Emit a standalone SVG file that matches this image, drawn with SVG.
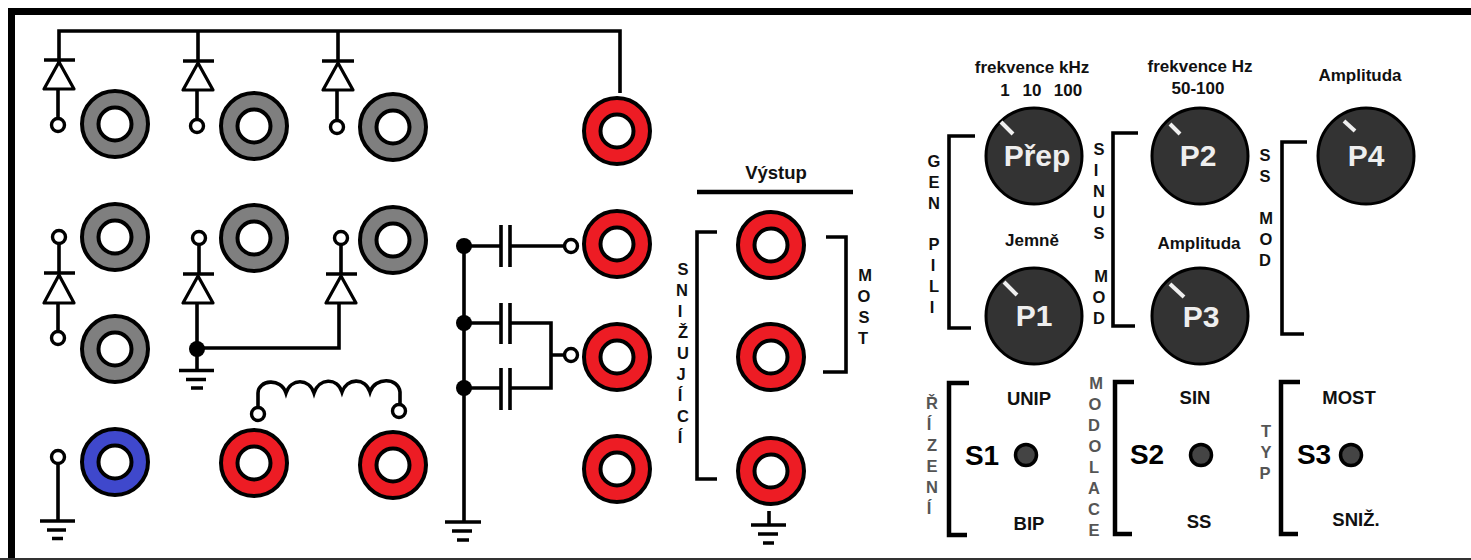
<svg xmlns="http://www.w3.org/2000/svg" width="1471" height="560" viewBox="0 0 1471 560">
<style>
.w{fill:none;stroke:#000;stroke-width:3.6}
.t{fill:#fff;stroke:#000;stroke-width:3.2;stroke-linejoin:round}
.c{fill:#fff;stroke:#000;stroke-width:3.4}
.j{fill:#000}
.so{stroke:#000;stroke-width:4}
.g{fill:#7f7f7f}.r{fill:#ed1c24}.b{fill:#3f48cc}
.k{fill:#333;stroke:#000;stroke-width:3}
.p{stroke:#f0f0f0;stroke-width:4;fill:none}
.l{fill:#444;stroke:#000;stroke-width:3.5}
text{font-family:"Liberation Sans",Arial,sans-serif;font-weight:700;fill:#111;text-anchor:middle}
.v{font-size:16.500px}.vg{font-size:16.500px;fill:#555}
.m{font-size:17px}
.n{font-size:30px;fill:#eee}
.s{font-size:28px;fill:#000}
.o{font-size:18.500px}
</style>
<rect width="1471" height="560" fill="#fff"/>
<g id="frame"><path d="M1471 11.500H11.500V558" class="w" style="stroke-width:7"/><path d="M0 559H1471" stroke="#333" stroke-width="2"/></g>
<g id="connectors">
<path class="w" d="M59 89V31H620V93"/>
<path class="w" d="M198 31V61M338 31V61"/>
<path class="w" d="M44 60H75M183 61H214M322 61H354"/>
<path class="w" d="M58 89V118M197 90V120M337 90V121"/>
<path class="w" d="M59 243V273M199 244V274M341 244V274M44 273H75M183 274H214M326 274H357"/>
<path class="w" d="M58 303V331M197 303V370M339 303V348H197"/>
<path class="w" d="M58 463V521"/>
<path class="w" d="M258 407V393C258 380 281 377 286 393C291 378 309 378 314 393C319 378 337 377 342 392C347 378 365 377 370 392C375 377 398 377 400 392V404"/>
<path class="w" d="M464 246V522M464 246H501M510 246H565M464 323H501M510 323H551V388H510M501 388H464M551 355H565"/>
<path class="w" d="M501 225V267M510 225V267M501 303V344M510 303V344M501 368V410M510 368V410"/>
<path class="w" d="M769 511V525"/>
</g>
<g id="grounds">
<path class="w" d="M179 370.500H214M186 379.500H206M191 388H203"/>
<path class="w" d="M40 521H75M47 530H66M52 538.500H63"/>
<path class="w" d="M445 522H481M452 531H472M457 540H469"/>
<path class="w" d="M751 525H786M758 534H778M763 543H774"/>
</g>
<g id="diodes">
<path class="t" d="M59 62L44 89H74Z"/><path class="t" d="M198 63L183 90H213Z"/><path class="t" d="M338 63L323 90H353Z"/>
<path class="t" d="M59 275L44 303H74Z"/><path class="t" d="M198 276L183 303H213Z"/><path class="t" d="M341 276L326 303H356Z"/>
</g>
<g id="terminals">
<circle class="c" cx="58" cy="125" r="6.500"/><circle class="c" cx="197" cy="126" r="6.500"/><circle class="c" cx="337" cy="127" r="6.500"/>
<circle class="c" cx="59" cy="237" r="6.500"/><circle class="c" cx="199" cy="238" r="6.500"/><circle class="c" cx="341" cy="238" r="6.500"/>
<circle class="c" cx="58" cy="338" r="6.500"/><circle class="c" cx="58" cy="457" r="6.500"/>
<circle class="c" cx="258" cy="414" r="6.500"/><circle class="c" cx="399" cy="411" r="6.500"/>
<circle class="c" cx="571" cy="246" r="6.500"/><circle class="c" cx="571" cy="355" r="6.500"/>
<circle class="j" cx="197" cy="349" r="8"/><circle class="j" cx="464" cy="246" r="8"/><circle class="j" cx="464" cy="323" r="8"/><circle class="j" cx="464" cy="388" r="8"/>
</g>
<g id="socket-g1"><circle class="so g" cx="115" cy="124" r="33"/><circle class="c" style="stroke-width:4" cx="115" cy="124" r="16.500"/></g>
<g id="socket-g2"><circle class="so g" cx="254" cy="126" r="33"/><circle class="c" style="stroke-width:4" cx="254" cy="126" r="16.500"/></g>
<g id="socket-g3"><circle class="so g" cx="393" cy="127" r="33"/><circle class="c" style="stroke-width:4" cx="393" cy="127" r="16.500"/></g>
<g id="socket-g4"><circle class="so g" cx="115" cy="237" r="33"/><circle class="c" style="stroke-width:4" cx="115" cy="237" r="16.500"/></g>
<g id="socket-g5"><circle class="so g" cx="254" cy="238" r="33"/><circle class="c" style="stroke-width:4" cx="254" cy="238" r="16.500"/></g>
<g id="socket-g6"><circle class="so g" cx="393" cy="240" r="33"/><circle class="c" style="stroke-width:4" cx="393" cy="240" r="16.500"/></g>
<g id="socket-g7"><circle class="so g" cx="115" cy="349" r="33"/><circle class="c" style="stroke-width:4" cx="115" cy="349" r="16.500"/></g>
<g id="socket-b1"><circle class="so b" cx="115" cy="462" r="33"/><circle class="c" style="stroke-width:4" cx="115" cy="462" r="16.500"/></g>
<g id="socket-r1"><circle class="so r" cx="254" cy="463" r="33"/><circle class="c" style="stroke-width:4" cx="254" cy="463" r="16.500"/></g>
<g id="socket-r2"><circle class="so r" cx="393" cy="465" r="33"/><circle class="c" style="stroke-width:4" cx="393" cy="465" r="16.500"/></g>
<g id="socket-r3"><circle class="so r" cx="617" cy="131" r="33"/><circle class="c" style="stroke-width:4" cx="617" cy="131" r="16.500"/></g>
<g id="socket-r4"><circle class="so r" cx="617" cy="244" r="33"/><circle class="c" style="stroke-width:4" cx="617" cy="244" r="16.500"/></g>
<g id="socket-r5"><circle class="so r" cx="617" cy="357" r="33"/><circle class="c" style="stroke-width:4" cx="617" cy="357" r="16.500"/></g>
<g id="socket-r6"><circle class="so r" cx="617" cy="469" r="33"/><circle class="c" style="stroke-width:4" cx="617" cy="469" r="16.500"/></g>
<g id="socket-r7"><circle class="so r" cx="771" cy="245" r="33"/><circle class="c" style="stroke-width:4" cx="771" cy="245" r="16.500"/></g>
<g id="socket-r8"><circle class="so r" cx="771" cy="357" r="33"/><circle class="c" style="stroke-width:4" cx="771" cy="357" r="16.500"/></g>
<g id="socket-r9"><circle class="so r" cx="771" cy="471" r="33"/><circle class="c" style="stroke-width:4" cx="771" cy="471" r="16.500"/></g>
<g id="vystup">
<text x="776" y="179" style="font-size:18.500px">Výstup</text>
<path class="w" d="M697 192H853" style="stroke-width:4.500"/>
<path class="w" d="M717 232H697V479H717M826 237H846V372H823"/>
<text class="v" x="683" y="275">S</text><text class="v" x="682" y="296">N</text><text class="v" x="680" y="317">I</text><text class="v" x="683" y="338">Ž</text><text class="v" x="683" y="359">U</text><text class="v" x="681" y="380">J</text><text class="v" x="680" y="401">Í</text><text class="v" x="683" y="422">C</text><text class="v" x="680" y="443">Í</text>
<text class="v" x="865" y="281">M</text><text class="v" x="864" y="302">O</text><text class="v" x="864" y="323">S</text><text class="v" x="863" y="344">T</text>
</g>
<g id="knob-prep"><circle class="k" cx="1034" cy="156" r="48"/><path class="p" d="M1001 122L1013 134"/><text class="n" x="1037" y="166">Přep</text></g>
<g id="knob-p1"><circle class="k" cx="1034" cy="316" r="48"/><path class="p" d="M1004 282L1017 295"/><text class="n" x="1034" y="326">P1</text></g>
<g id="knob-p2"><circle class="k" cx="1200" cy="156" r="48"/><path class="p" d="M1170 124L1180 134"/><text class="n" x="1198" y="166">P2</text></g>
<g id="knob-p3"><circle class="k" cx="1200" cy="316" r="48"/><path class="p" d="M1170 284L1184 297"/><text class="n" x="1201" y="327">P3</text></g>
<g id="knob-p4"><circle class="k" cx="1366" cy="156" r="48"/><path class="p" d="M1344 121L1355 131"/><text class="n" x="1366" y="166">P4</text></g>
<g id="knob-labels">
<text class="m" x="1032" y="73">frekvence kHz</text>
<text class="m" x="1005" y="96">1</text><text class="m" x="1032" y="96">10</text><text class="m" x="1068" y="96">100</text>
<text class="m" x="1200" y="72">frekvence Hz</text><text class="m" x="1198" y="94">50-100</text>
<text class="m" x="1360" y="81">Amplituda</text><text class="m" x="1032" y="246">Jemně</text><text class="m" x="1199" y="249">Amplituda</text>
</g>
<g id="brackets">
<path class="w" d="M975 136H949V328H971M1138 133H1113V326H1135M1307 142H1282V334H1304"/>
<path class="w" style="stroke-width:4.500" d="M969 383H949V535H967M1134 382H1115V534H1132M1300 382H1281V534H1298"/>
</g>
<g id="side-labels">
<text class="v" x="934" y="167">G</text><text class="v" x="934" y="188">E</text><text class="v" x="934" y="209">N</text><text class="v" x="934" y="250">P</text><text class="v" x="933" y="271">I</text><text class="v" x="934" y="292">L</text><text class="v" x="932" y="313">I</text>
<text class="v" x="1099" y="155">S</text><text class="v" x="1096" y="176">I</text><text class="v" x="1099" y="197">N</text><text class="v" x="1099" y="218">U</text><text class="v" x="1099" y="239">S</text><text class="v" x="1101" y="282">M</text><text class="v" x="1099" y="303">O</text><text class="v" x="1099" y="324">D</text>
<text class="v" x="1265" y="161">S</text><text class="v" x="1265" y="182">S</text><text class="v" x="1266" y="224">M</text><text class="v" x="1266" y="245">O</text><text class="v" x="1265" y="266">D</text>
<text class="vg" x="932" y="409">Ř</text><text class="vg" x="929" y="430">Í</text><text class="vg" x="932" y="451">Z</text><text class="vg" x="932" y="472">E</text><text class="vg" x="932" y="493">N</text><text class="vg" x="929" y="514">Í</text>
<text class="vg" x="1096" y="389">M</text><text class="vg" x="1095" y="410">O</text><text class="vg" x="1094" y="431">D</text><text class="vg" x="1095" y="452">O</text><text class="vg" x="1094" y="473">L</text><text class="vg" x="1094" y="494">A</text><text class="vg" x="1094" y="515">C</text><text class="vg" x="1094" y="536">E</text>
<text class="vg" x="1266" y="437">T</text><text class="vg" x="1266" y="458">Y</text><text class="vg" x="1265" y="479">P</text>
</g>
<g id="switch-s1"><text class="s" x="982" y="465">S1</text><circle class="l" cx="1026" cy="455" r="10.500"/><text class="o" x="1029" y="405">UNIP</text><text class="o" x="1029" y="530">BIP</text></g>
<g id="switch-s2"><text class="s" x="1147" y="464">S2</text><circle class="l" cx="1201" cy="455" r="10.500"/><text class="o" x="1195" y="404">SIN</text><text class="o" x="1199" y="528">SS</text></g>
<g id="switch-s3"><text class="s" x="1314" y="464">S3</text><circle class="l" cx="1351" cy="455" r="10.500"/><text class="o" x="1349" y="404">MOST</text><text class="o" x="1356" y="526">SNIŽ.</text></g>
</svg>
